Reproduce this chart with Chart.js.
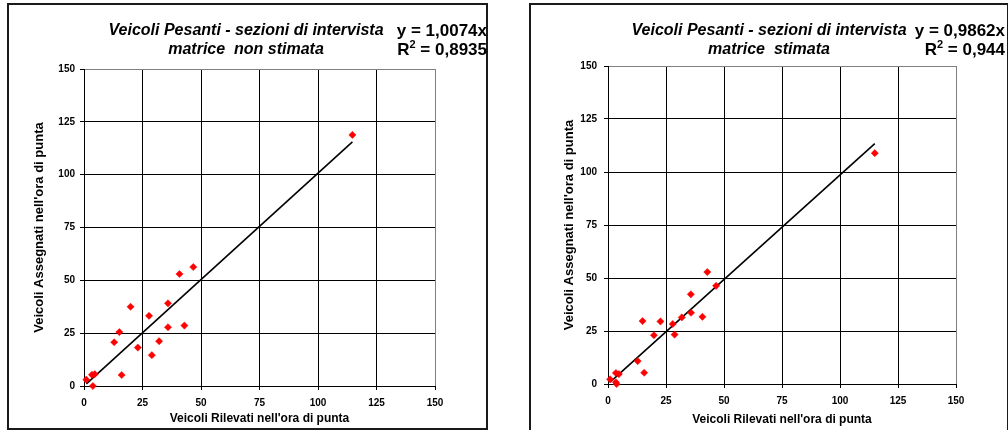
<!DOCTYPE html>
<html><head><meta charset="utf-8">
<script src="https://cdn.jsdelivr.net/npm/chart.js@4"></script>
<style>
html,body{margin:0;padding:0;background:#fff;width:1008px;height:430px;overflow:hidden;position:relative}
.box{position:absolute;box-sizing:border-box;border:2px solid #1a1a1a}
canvas{position:absolute;top:0}
</style></head><body>
<div class="box" style="left:7px;top:3px;width:481px;height:427px"></div>
<div class="box" style="left:529px;top:3px;width:480px;height:440px"></div>
<canvas id="c1" width="500" height="430" style="left:0"></canvas>
<canvas id="c2" width="492" height="430" style="left:516px"></canvas>
<script>
// ---- data ----
const axisTicks = [0, 25, 50, 75, 100, 125, 150];
const leftX  = [1.0, 3.4, 4.6, 3.8, 12.9, 15.1, 16.1, 19.9, 23.0, 27.8, 29.0, 32.1, 35.9, 35.9, 40.8, 42.9, 46.7, 114.7];
const leftY  = [3.0, 5.3, 5.6, 0.0, 20.7, 25.5, 5.2, 37.5, 18.2, 33.2, 14.6, 21.2, 39.1, 27.8, 53.0, 28.6, 56.3, 118.8];
const rightX = [0.9, 3.4, 4.7, 3.4, 3.7, 12.8, 14.9, 15.6, 19.8, 22.6, 27.9, 28.7, 31.8, 35.7, 35.8, 40.7, 42.8, 46.6, 115.0];
const rightY = [2.2, 5.2, 4.7, 0.8, 0.0, 10.8, 29.7, 5.3, 23.0, 29.5, 28.3, 23.3, 31.4, 42.3, 33.6, 31.7, 52.8, 46.3, 108.9];
const leftSlope = 1.0074;
const rightSlope = 0.9862;
const leftR2 = "0,8935";
const rightR2 = "0,944";
const titleLine1 = "Veicoli Pesanti - sezioni di intervista";
const leftTitle2 = "matrice  non stimata";
const rightTitle2 = "matrice  stimata";
const xTitle = "Veicoli Rilevati nell'ora di punta";
const yTitle = "Veicoli Assegnati nell'ora di punta";

const FONT = '"Liberation Sans", Arial, sans-serif';

const textPlugin = {
  id: 'texts',
  afterDraw(chart, args, o) {
    const ctx = chart.ctx;
    ctx.save();
    ctx.fillStyle = '#000';
    ctx.textBaseline = 'middle';
    ctx.font = 'italic bold 16px ' + FONT;
    ctx.textAlign = 'center';
    ctx.fillText(o.t1, o.tx, o.y1);
    ctx.fillText(o.t2, o.tx, o.y2);
    ctx.font = 'bold 17px ' + FONT;
    ctx.textAlign = 'right';
    ctx.fillText(o.eq, o.ex, o.y1);
    const rest = ' = ' + o.r2;
    const wRest = ctx.measureText(rest).width;
    const wR = ctx.measureText('R').width;
    ctx.font = 'bold 11px ' + FONT;
    const wS = ctx.measureText('2').width;
    let x = o.ex - wRest - wS - wR;
    ctx.textAlign = 'left';
    ctx.font = 'bold 17px ' + FONT;
    ctx.fillText('R', x, o.y2);
    ctx.font = 'bold 11px ' + FONT;
    ctx.fillText('2', x + wR, o.y2 - 5);
    ctx.font = 'bold 17px ' + FONT;
    ctx.fillText(rest, x + wR + wS, o.y2);
    ctx.restore();
  }
};

function makeChart(id, xs, ys, slope, r2, t2, g) {
  const pts = xs.map((x, i) => ({x: x, y: ys[i]}));
  const xmin = Math.min(...xs), xmax = Math.max(...xs);
  const trend = [{x: xmin, y: slope * xmin}, {x: xmax, y: slope * xmax}];
  const gridColor = c => (c.tick && c.tick.value === axisTicks[axisTicks.length - 1]) ? '#808080' : '#000';
  const tickFont = {family: FONT, size: 10, weight: 'bold'};
  const xTitleFont = {family: FONT, size: 12, weight: 'bold'};
  const yTitleFont = {family: FONT, size: 13, weight: 'bold'};
  new Chart(document.getElementById(id), {
    type: 'scatter',
    data: {
      datasets: [
        {data: pts, pointStyle: 'rectRot', pointRadius: 3.6, backgroundColor: '#ff0000', borderColor: '#ff0000', borderWidth: 0.5, clip: false, order: 0},
        {type: 'line', data: trend, showLine: true, borderColor: '#000', borderWidth: 1.6, pointRadius: 0, fill: false, order: 1}
      ]
    },
    options: {
      responsive: false, animation: false, devicePixelRatio: 1,
      layout: {padding: g.pad},
      plugins: {legend: {display: false}, tooltip: {enabled: false}, title: {display: false},
        texts: {t1: titleLine1, t2: t2, tx: g.tx, ex: g.ex, y1: 31, y2: 50, eq: 'y = ' + String(slope).replace('.', ',') + 'x', r2: r2}},
      scales: {
        x: {type: 'linear', min: axisTicks[0], max: axisTicks[axisTicks.length - 1],
          afterBuildTicks: s => { s.ticks = axisTicks.map(v => ({value: v})); },
          afterFit: s => { s.height = g.xh; },
          grid: {color: gridColor, lineWidth: 1, tickLength: 4, tickColor: '#000', drawTicks: true},
          border: {display: true, color: '#000', width: 1},
          ticks: {font: tickFont, color: '#000', padding: g.xpad, maxRotation: 0},
          title: {display: true, text: xTitle, font: xTitleFont, color: '#000', padding: 0}},
        y: {type: 'linear', min: axisTicks[0], max: axisTicks[axisTicks.length - 1],
          afterBuildTicks: s => { s.ticks = axisTicks.map(v => ({value: v})); },
          afterFit: s => { s.width = g.yw; },
          grid: {color: gridColor, lineWidth: 1, tickLength: 4, tickColor: '#000', drawTicks: true},
          border: {display: true, color: '#000', width: 1},
          ticks: {font: tickFont, color: '#000', padding: g.ypad},
          title: {display: true, text: yTitle, font: yTitleFont, color: '#000', padding: 0}}
      }
    },
    plugins: [textPlugin]
  });
}

makeChart('c1', leftX, leftY, leftSlope, leftR2, leftTitle2,
  {pad: {left: 32, right: 65, top: 69, bottom: 4}, yw: 52, xh: 40, xpad: 7.5, ypad: 5, tx: 246, ex: 487});
makeChart('c2', rightX, rightY, rightSlope, rightR2, rightTitle2,
  {pad: {left: 46, right: 52, top: 66, bottom: 3}, yw: 46, xh: 43, xpad: 7.5, ypad: 7, tx: 253, ex: 489});
</script>
</body></html>
